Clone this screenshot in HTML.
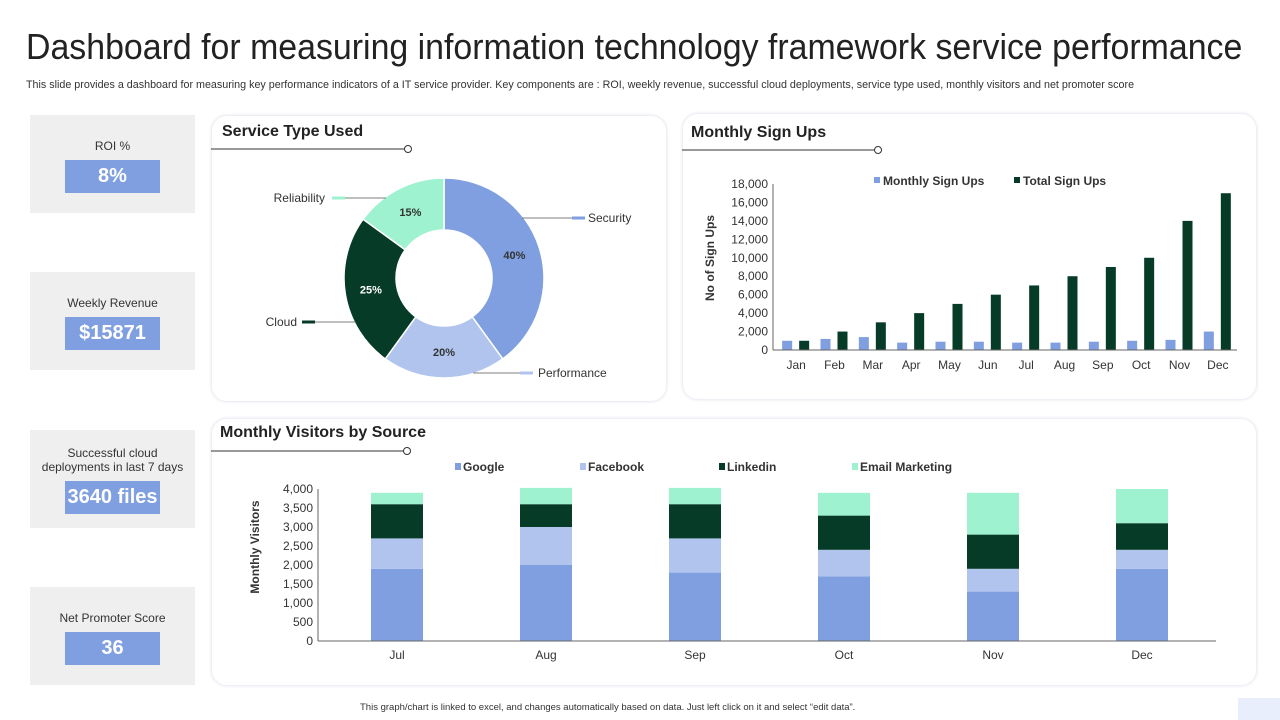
<!DOCTYPE html>
<html><head><meta charset="utf-8"><style>
body{margin:0;width:1280px;height:720px;background:#fff;font-family:"Liberation Sans",sans-serif;position:relative;overflow:hidden}
.abs{position:absolute}
.kpi{position:absolute;left:30px;width:165px;height:98px;background:#efefef;text-align:center;font-size:12px;color:#333}
.kv{position:absolute;left:35px;width:95px;height:33px;background:#7f9fe0;color:#fff;font-weight:bold;font-size:20px;line-height:33px}
.panel{position:absolute;border:1px solid #eceff4;border-radius:16px;box-shadow:0 0 3px #e6e9ef}
.pt{position:absolute;font-weight:bold;font-size:16px;color:#222}
</style></head><body>
<div class="abs" style="left:26px;top:26px;font-size:36px;color:#222;white-space:nowrap;transform:scaleX(0.941);transform-origin:left">Dashboard for measuring information technology framework service performance</div>
<div class="abs" style="left:26px;top:79px;font-size:10.6px;color:#333;white-space:nowrap;transform:scaleX(1.013);transform-origin:left">This slide provides a dashboard for measuring key performance indicators of a IT service provider. Key components are : ROI, weekly revenue, successful cloud deployments, service type used, monthly visitors and net promoter score</div>

<div class="kpi" style="top:115px"><div style="margin-top:24px">ROI %</div><div class="kv" style="top:45px">8%</div></div>
<div class="kpi" style="top:272px"><div style="margin-top:24px">Weekly Revenue</div><div class="kv" style="top:45px">$15871</div></div>
<div class="kpi" style="top:430px"><div style="margin-top:16px;line-height:14px">Successful cloud<br>deployments in last 7 days</div><div class="kv" style="top:51px">3640 files</div></div>
<div class="kpi" style="top:587px"><div style="margin-top:24px">Net Promoter Score</div><div class="kv" style="top:45px">36</div></div>

<div class="panel" style="left:211px;top:115px;width:454px;height:285px"></div>
<div class="panel" style="left:682px;top:113px;width:573px;height:285px"></div>
<div class="panel" style="left:211px;top:418px;width:1044px;height:266px"></div>

<div class="pt" style="left:222px;top:123px">Service Type Used</div>
<div class="pt" style="left:691px;top:124px">Monthly Sign Ups</div>
<div class="pt" style="left:220px;top:424px">Monthly Visitors by Source</div>

<div class="abs" style="left:360px;top:702px;font-size:9.5px;color:#333">This graph/chart is linked to excel, and changes automatically based on data. Just left click on it and select “edit data”.</div>
<div class="abs" style="left:1238px;top:698px;width:42px;height:22px;background:#e8eefb"></div>

<svg id="svg" class="abs" style="left:0;top:0" width="1280" height="720"></svg>
<script>
const pieLabels=["Security","Performance","Cloud","Reliability"];
const pieValues=[40,20,25,15];
const pieColors=["#7f9fe0","#b0c4ee","#063b27","#9ef2d0"];
const months=["Jan","Feb","Mar","Apr","May","Jun","Jul","Aug","Sep","Oct","Nov","Dec"];
const monthlySignUps=[1000,1200,1400,800,900,900,800,800,900,1000,1100,2000];
const totalSignUps=[1000,2000,3000,4000,5000,6000,7000,8000,9000,10000,14000,17000];
const signTicks=[0,2000,4000,6000,8000,10000,12000,14000,16000,18000];
const vMonths=["Jul","Aug","Sep","Oct","Nov","Dec"];
const google=[1900,2000,1800,1700,1300,1900];
const facebook=[800,1000,900,700,600,500];
const linkedin=[900,600,900,900,900,700];
const email=[300,430,430,600,1100,900];
const vTicks=[0,500,1000,1500,2000,2500,3000,3500,4000];

const NS="http://www.w3.org/2000/svg",svg=document.getElementById('svg');
function el(t,a,txt){const e=document.createElementNS(NS,t);for(const k in a)e.setAttribute(k,a[k]);if(txt!==undefined)e.textContent=txt;svg.appendChild(e);return e;}
const fmt=v=>v.toLocaleString('en-US');

[[211,149,407],[682,150,877],[211,451,406]].forEach(([x1,y,x2])=>{
 let l=el('line',{x1,y1:y,x2,y2:y,stroke:'#333','stroke-width':1});
 
 let c=el('circle',{cx:x2+1,cy:y,r:3.5,fill:'#fff',stroke:'#333'});
 
});

// donut
const cx=444,cy=278,R=100,r=48;
let tot=pieValues.reduce((a,b)=>a+b,0),ang=-Math.PI/2;
const labelPos=[[572,218,588,'start',1],[520,373,538,'start',1],[315,322,297,'end',-1],[345,198,325,'end',-1]];
pieValues.forEach((v,i)=>{
 const a0=ang,a1=ang+v/tot*2*Math.PI;ang=a1;
 const p=(rad,a)=>[cx+rad*Math.cos(a),cy+rad*Math.sin(a)];
 const [x0,y0]=p(R,a0),[x1,y1]=p(R,a1),[x2,y2]=p(r,a1),[x3,y3]=p(r,a0);
 const lg=(a1-a0)>Math.PI?1:0;
 let s=el('path',{d:`M${x0},${y0}A${R},${R} 0 ${lg} 1 ${x1},${y1}L${x2},${y2}A${r},${r} 0 ${lg} 0 ${x3},${y3}Z`,fill:pieColors[i],stroke:'#fff','stroke-width':1.5});
 
 const am=(a0+a1)/2,[tx,ty]=p((R+r)/2,am);
 let t=el('text',{x:tx,y:ty+4,'text-anchor':'middle','font-size':11,'font-weight':'bold',fill:i==2?'#fff':'#333'},v+'%');
 
 const L=labelPos[i];
 const dy=L[1]-cy, ex=cx+L[4]*Math.sqrt(Math.max(0,R*R-dy*dy))-L[4]*2;
 let ln=el('line',{x1:ex,y1:L[1],x2:L[0],y2:L[1],stroke:'#555','stroke-width':0.8});
 
 let mk=el('rect',{x:L[4]>0?L[0]:L[0]-13,y:L[1]-1.5,width:13,height:3,fill:pieColors[i]});
 
 let lb=el('text',{x:L[2],y:L[1]+4,'text-anchor':L[3],'font-size':12,fill:'#333'},pieLabels[i]);
 
});

// sign ups bar chart
const sx0=777,sx1=1237,sy0=350,sy1=184,smax=18000;
const sy=v=>sy0-(v/smax)*(sy0-sy1);
const sw=(sx1-sx0)/months.length,sxc=i=>sx0+sw*(i+0.5);
signTicks.forEach(t=>{let e=el('text',{x:768,y:sy(t)+4,'text-anchor':'end','font-size':12,fill:'#333'},fmt(t));});
months.forEach((m,i)=>{
 let b1=el('rect',{x:sxc(i)-14,y:sy(monthlySignUps[i]),width:10,height:sy0-sy(monthlySignUps[i]),fill:'#7f9fe0'});
 
 let b2=el('rect',{x:sxc(i)+3,y:sy(totalSignUps[i]),width:10,height:sy0-sy(totalSignUps[i]),fill:'#063b27'});
 
 let t=el('text',{x:sxc(i),y:369,'text-anchor':'middle','font-size':12,fill:'#333'},m);
 
});
let ax=el('line',{x1:sx0-4,y1:sy0,x2:sx1,y2:sy0,stroke:'#666'});
let ay=el('line',{x1:sx0-4,y1:sy1,x2:sx0-4,y2:sy0,stroke:'#666'});
let st=el('text',{x:0,y:0,transform:'translate(714,258) rotate(-90)','text-anchor':'middle','font-size':12,'font-weight':'bold',fill:'#333'},'No of Sign Ups');

[[874,'#7f9fe0','Monthly Sign Ups'],[1014,'#063b27','Total Sign Ups']].forEach(([x,c,n])=>{
 let r1=el('rect',{x,y:177,width:6,height:6,fill:c});
 let t=el('text',{x:x+9,y:185,'font-size':12,'font-weight':'bold',fill:'#333'},n);
});

// visitors stacked
const vx0=322,vx1=1216,vy0=641,vy1=489,vmax=4000;
const vy=v=>vy0-(v/vmax)*(vy0-vy1);
const vw=149,vxc=i=>397+vw*i;
vTicks.forEach(t=>{let e=el('text',{x:313,y:vy(t)+4,'text-anchor':'end','font-size':12,fill:'#333'},fmt(t));});
const series=[[google,'#7f9fe0','google'],[facebook,'#b0c4ee','facebook'],[linkedin,'#063b27','linkedin'],[email,'#9ef2d0','email']];
vMonths.forEach((m,i)=>{
 let base=0;
 series.forEach(([arr,c,n])=>{
  const v=arr[i];
  let b=el('rect',{x:vxc(i)-26,y:vy(base+v),width:52,height:vy(base)-vy(base+v),fill:c});
  
  base+=v;
 });
 let t=el('text',{x:vxc(i),y:659,'text-anchor':'middle','font-size':12,fill:'#333'},m);
 
});
let vax=el('line',{x1:vx0-4,y1:vy0,x2:vx1,y2:vy0,stroke:'#666'});
let vay=el('line',{x1:vx0-4,y1:vy1,x2:vx0-4,y2:vy0,stroke:'#666'});
let vt=el('text',{x:0,y:0,transform:'translate(259,547) rotate(-90)','text-anchor':'middle','font-size':12,'font-weight':'bold',fill:'#333'},'Monthly Visitors');

[[455,'#7f9fe0','Google'],[580,'#b0c4ee','Facebook'],[719,'#063b27','Linkedin'],[852,'#9ef2d0','Email Marketing']].forEach(([x,c,n])=>{
 let r1=el('rect',{x,y:463,width:6,height:7,fill:c});
 let t=el('text',{x:x+8,y:471,'font-size':12,'font-weight':'bold',fill:'#333'},n);
});
</script>
</body></html>
